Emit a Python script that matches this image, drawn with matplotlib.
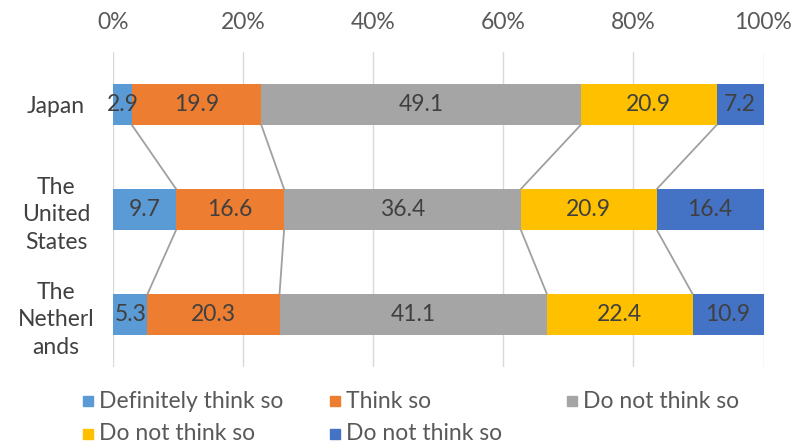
import matplotlib
matplotlib.use("Agg")
import matplotlib.pyplot as plt
from matplotlib.patches import Rectangle
import numpy as np

countries = ["Japan", "The\nUnited\nStates", "The\nNetherl\nands"]
series_names = ["Definitely think so", "Think so", "Do not think so",
                "Do not think so", "Do not think so"]
colors = ["#5B9BD5", "#ED7D31", "#A5A5A5", "#FFC000", "#4472C4"]
japan = [2.9, 19.9, 49.1, 20.9, 7.2]
usa = [9.7, 16.6, 36.4, 20.9, 16.4]
netherlands = [5.3, 20.3, 41.1, 22.4, 10.9]
xticks = [0, 20, 40, 60, 80, 100]
xticklabels = ["0%", "20%", "40%", "60%", "80%", "100%"]

plt.rcParams['font.family'] = ['Lato', 'DejaVu Sans']
FS = 16.5
W, H = 794, 445
fig = plt.figure(figsize=(W / 100, H / 100), dpi=100)
ax = fig.add_axes([113 / W, 1 - 367 / H, (763.5 - 113) / W, (367 - 52) / H])

data = np.array([japan, usa, netherlands])
ypos = np.arange(len(countries))
bh = 0.39
left = np.zeros(len(countries))
for j in range(data.shape[1]):
    vals = data[:, j]
    ax.barh(ypos, vals, left=left, height=bh, color=colors[j], zorder=3)
    for i, v in enumerate(vals):
        ax.text(left[i] + v / 2, ypos[i], f"{v:.1f}", ha='center', va='center',
                fontsize=FS, color='#404040', zorder=4)
    left = left + vals

# series lines
cum = np.cumsum(data, axis=1)
for k in range(data.shape[1] - 1):
    for i in range(len(countries) - 1):
        ax.plot([cum[i, k], cum[i + 1, k]], [ypos[i] + bh / 2, ypos[i + 1] - bh / 2],
                color='#A0A0A0', lw=1.3, zorder=2)

ax.set_xlim(0, 100)
ax.set_ylim(len(countries) - 0.5, -0.5)
ax.set_xticks(xticks)
ax.set_xticklabels(xticklabels)
ax.xaxis.tick_top()
ax.tick_params(axis='x', length=0, pad=14, labelsize=FS, labelcolor='#595959')
ax.set_yticks(ypos)
ax.set_yticklabels(countries, ha='center', multialignment='center', linespacing=1.38)
ax.tick_params(axis='y', length=0, pad=41, labelsize=FS, labelcolor='#404040')
ax.grid(axis='x', color='#D9D9D9', lw=1, zorder=0)
for s in ax.spines.values():
    s.set_visible(False)

# legend
leg_pos = [(83, 401), (330, 401), (567, 401), (83, 434), (330, 434)]
for (x, y), name, c in zip(leg_pos, series_names, colors):
    fig.patches.append(Rectangle((x / W, 1 - (y + 5) / H), 10 / W, 10 / H,
                                 transform=fig.transFigure, color=c))
    fig.text((x + 16) / W, 1 - y / H, name, ha='left', va='center',
             fontsize=FS, color='#595959')

fig.savefig("out.png", dpi=100)
